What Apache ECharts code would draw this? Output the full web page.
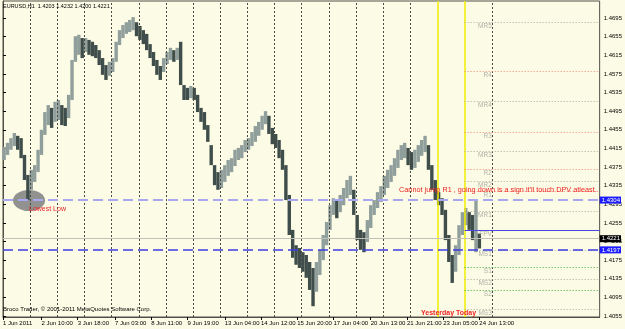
<!DOCTYPE html>
<html>
<head>
<meta charset="utf-8">
<script src="https://cdn.jsdelivr.net/npm/echarts@6/dist/echarts.min.js"></script>
<style>
html, body { margin: 0; padding: 0; background: #fcfce6; }
#chart { width: 625px; height: 329px; }
</style>
</head>
<body>
<div id="chart"></div>
<script>
// EURUSD H1, 1 Jun - 24 Jun 2011, grouped in 3-hour buckets (hour index = trading hours since 1 Jun 00:00)
const priceHigh = [
  1.4418, 1.4427, 1.4437, 1.4448, 1.4442, 1.4437, 1.4401, 1.4358, 1.4369, 1.4379,
  1.4412, 1.4455, 1.4493, 1.4508, 1.4502, 1.4515, 1.4519, 1.4508, 1.4502, 1.4530,
  1.4605, 1.4656, 1.4659, 1.4652, 1.4652, 1.4648, 1.4644, 1.4637, 1.4626, 1.4609,
  1.4594, 1.4601, 1.4609, 1.4644, 1.4669, 1.4680, 1.4686, 1.4691, 1.4697, 1.4686,
  1.4678, 1.4669, 1.4661, 1.4639, 1.4622, 1.4605, 1.4592, 1.4609, 1.4622, 1.4631,
  1.4626, 1.4631, 1.4644, 1.4551, 1.4545, 1.4549, 1.4545, 1.4530, 1.4502, 1.4493,
  1.4465, 1.4422, 1.4379, 1.4364, 1.4369, 1.4379, 1.4390, 1.4394, 1.4412, 1.4416,
  1.4422, 1.4433, 1.4437, 1.4450, 1.4463, 1.4472, 1.4485, 1.4495, 1.4485, 1.4459,
  1.4446, 1.4433, 1.4412, 1.4379, 1.4315, 1.4240, 1.4207, 1.4201, 1.4192, 1.4186,
  1.4171, 1.4158, 1.4171, 1.4197, 1.4229, 1.4257, 1.4293, 1.4308, 1.4304, 1.4315,
  1.4330, 1.4347, 1.4356, 1.4326, 1.4272, 1.4240, 1.4235, 1.4261, 1.4293, 1.4304,
  1.4321, 1.4334, 1.4356, 1.4369, 1.4379, 1.4394, 1.4412, 1.4422, 1.4427, 1.4416,
  1.4407, 1.4412, 1.4422, 1.4433, 1.4442, 1.4422, 1.4379, 1.4347, 1.4321, 1.4308,
  1.4283, 1.4229, 1.4186, 1.4207, 1.4250, 1.4278, 1.4287, 1.4278, 1.4272, 1.4304,
  1.4232
];
const priceLow = [
  1.4390, 1.4401, 1.4412, 1.4420, 1.4412, 1.4394, 1.4347, 1.4304, 1.4326, 1.4343,
  1.4364, 1.4401, 1.4444, 1.4465, 1.4459, 1.4472, 1.4476, 1.4465, 1.4463, 1.4480,
  1.4519, 1.4601, 1.4616, 1.4609, 1.4622, 1.4616, 1.4613, 1.4609, 1.4594, 1.4573,
  1.4562, 1.4571, 1.4579, 1.4601, 1.4637, 1.4652, 1.4661, 1.4665, 1.4669, 1.4656,
  1.4648, 1.4639, 1.4626, 1.4609, 1.4592, 1.4573, 1.4562, 1.4579, 1.4596, 1.4605,
  1.4601, 1.4605, 1.4551, 1.4519, 1.4519, 1.4523, 1.4519, 1.4493, 1.4472, 1.4455,
  1.4429, 1.4379, 1.4336, 1.4326, 1.4330, 1.4343, 1.4356, 1.4364, 1.4377, 1.4390,
  1.4394, 1.4407, 1.4412, 1.4420, 1.4429, 1.4442, 1.4455, 1.4467, 1.4446, 1.4424,
  1.4416, 1.4394, 1.4369, 1.4304, 1.4229, 1.4180, 1.4165, 1.4158, 1.4150, 1.4137,
  1.4111, 1.4076, 1.4107, 1.4143, 1.4175, 1.4207, 1.4240, 1.4272, 1.4265, 1.4278,
  1.4293, 1.4308, 1.4315, 1.4272, 1.4218, 1.4197, 1.4192, 1.4214, 1.4244, 1.4272,
  1.4287, 1.4300, 1.4315, 1.4330, 1.4343, 1.4356, 1.4373, 1.4390, 1.4394, 1.4379,
  1.4369, 1.4373, 1.4386, 1.4399, 1.4407, 1.4369, 1.4326, 1.4304, 1.4293, 1.4272,
  1.4218, 1.4171, 1.4126, 1.4150, 1.4186, 1.4229, 1.4250, 1.4240, 1.4218, 1.4192,
  1.4200
];

const timeLabels = ['1 Jun 2011', '2 Jun 10:00', '3 Jun 18:00', '7 Jun 03:00', '8 Jun 11:00', '9 Jun 19:00',
  '13 Jun 04:00', '14 Jun 12:00', '15 Jun 20:00', '17 Jun 04:00', '20 Jun 13:00', '21 Jun 21:00',
  '23 Jun 05:00', '24 Jun 13:00'];
const timeLabelHours = [0, 34, 66, 99, 131, 163, 196, 228, 260, 292, 325, 357, 389, 421];
const daySeparatorHours = [24, 48, 72, 96, 120, 144, 168, 192, 216, 240, 264, 288, 312, 336, 360, 432];
const markerHours = [384, 408]; // yesterday, today

const priceTicks = [1.4055, 1.4095, 1.4135, 1.4175, 1.4215, 1.4255, 1.4295, 1.4335, 1.4375,
  1.4415, 1.4455, 1.4495, 1.4535, 1.4575, 1.4615, 1.4655, 1.4695];

const pivotNames = ['MR5', 'R4', 'MR4', 'R3', 'MR3', 'R2', 'MR2', 'R1', 'MR1', 'FPV', 'MS1', 'S1', 'MS2', 'S2', 'MS3'];
const pivotValues = [1.4686, 1.4581, 1.4517, 1.4450, 1.4409, 1.4371, 1.4345, 1.4323, 1.4281, 1.4240,
  1.4197, 1.4160, 1.4134, 1.4111, 1.4070];

const levelPrices = [1.4304, 1.4197];
const bidPrice = 1.4221;
const lowestLowPoint = [23, 1.4303];
const ohlcText = 'EURUSD,H1  1.4203 1.4232 1.4200 1.4221';

const FONT = 'Liberation Sans';
const X_MAX = 527.3;
const Y_MIN = 1.40528, Y_MAX = 1.47316;

let chart = echarts.init(document.getElementById('chart'));

const bars = priceHigh.map((h, i) => {
    const mid = (h + priceLow[i]) / 2;
    const prevMid = i > 0 ? (priceHigh[i - 1] + priceLow[i - 1]) / 2 : mid;
    return [i * 3 + 1, priceLow[i], h, mid >= prevMid ? 1 : 0];
});

function pivotStyle(name) {
    if (name === 'FPV') return { color: '#4848e0', type: 'solid', width: 1 };
    if (name[0] === 'M') return { color: '#a8a8a0', type: [1, 2], width: 1 };
    if (name[0] === 'R') return { color: '#f08878', type: [1, 2], width: 1 };
    return { color: '#3aa83a', type: [1, 2], width: 1 };
}

function priceLabel(bg, text) {
    return {
        show: true, position: 'end', distance: 0, formatter: text,
        backgroundColor: bg, color: '#fff', padding: [1, 1, 0, 2], fontSize: 6, fontFamily: FONT
    };
}

const noLabel = { show: false };

// vertical separators + yesterday/today markers + bid line, all under the bars
const backLines = daySeparatorHours.map(h => [
    { coord: [h, Y_MIN], lineStyle: { type: [2, 2], color: '#4a4a44', width: 1 }, label: noLabel },
    { coord: [h, Y_MAX] }
]).concat(markerHours.map(h => [
    { coord: [h, Y_MIN], lineStyle: { type: 'solid', color: '#f2ee00', width: 1.5 }, label: noLabel },
    { coord: [h, Y_MAX] }
])).concat([[
    { coord: [0, bidPrice], lineStyle: { type: 'solid', color: '#c0c0b8', width: 1 }, label: priceLabel('#000', bidPrice.toFixed(4)) },
    { coord: [X_MAX, bidPrice] }
]]);

const option = {
    backgroundColor: '#fcfce6',
    animation: false,
    grid: { left: 1, top: 1, width: 602, height: 316, show: true, borderColor: '#505048', borderWidth: 1 },
    xAxis: {
        type: 'value', min: 0, max: X_MAX,
        axisLine: { show: true, lineStyle: { color: '#505048' } },
        axisTick: { show: true, customValues: timeLabelHours, length: 3, lineStyle: { color: '#000' } },
        axisLabel: {
            customValues: timeLabelHours,
            formatter: v => timeLabels[timeLabelHours.indexOf(v)],
            align: 'left', fontSize: 6, fontFamily: FONT, color: '#000', margin: 3
        },
        splitLine: { show: false }
    },
    yAxis: {
        type: 'value', position: 'right', min: Y_MIN, max: Y_MAX,
        axisLine: { show: true, lineStyle: { color: '#505048' } },
        axisTick: { show: true, customValues: priceTicks, length: 3, lineStyle: { color: '#000' } },
        axisLabel: {
            customValues: priceTicks, formatter: v => v.toFixed(4),
            fontSize: 6, fontFamily: FONT, color: '#000', margin: 4
        },
        splitLine: { show: false }
    },
    series: [
        {
            name: 'lowest low',
            type: 'scatter', z: 1, silent: true,
            symbol: 'circle', symbolSize: [32, 21],
            itemStyle: { color: '#76767a' },
            data: [lowestLowPoint],
            markLine: {
                symbol: ['none', 'none'], silent: true, animation: false,
                data: backLines
            }
        },
        {
            name: 'EURUSD',
            type: 'custom', z: 3,
            renderItem: function (params, api) {
                const x = api.value(0);
                const lo = api.coord([x, api.value(1)]);
                const hi = api.coord([x, api.value(2)]);
                return {
                    type: 'rect',
                    shape: { x: lo[0] - 1.7, y: hi[1], width: 3.4, height: Math.max(1, lo[1] - hi[1]) },
                    style: { fill: api.value(3) ? '#909f9b' : '#3f4d4b' }
                };
            },
            encode: { x: 0, y: [1, 2] },
            data: bars
        },
        {
            name: 'pivots',
            type: 'scatter', z: 4, silent: true,
            symbolSize: 0,
            data: pivotValues.map((v, i) => [432, v, pivotNames[i]]),
            label: {
                show: true, position: 'left', distance: 0, offset: [0, 4],
                formatter: p => p.data[2],
                fontSize: 6.5, fontFamily: FONT, color: '#9c9c98'
            },
            markLine: {
                symbol: ['none', 'none'], silent: true, animation: false,
                data: pivotValues.map((v, i) => [
                    { coord: [markerHours[1], v], lineStyle: pivotStyle(pivotNames[i]), label: noLabel },
                    { coord: [X_MAX, v] }
                ]).concat(levelPrices.map((p, i) => [
                    { coord: [0, p], lineStyle: { type: [10, 5], color: i === 0 ? '#a8a8f0' : '#3c3ce4', width: i === 0 ? 2 : 1.5 },
                      label: priceLabel('#1c1cff', p.toFixed(4)) },
                    { coord: [X_MAX, p] }
                ]))
            }
        }
    ],
    graphic: [
        { type: 'text', left: 3, top: 3, z: 10, style: { text: ohlcText, fontSize: 5.5, fontFamily: FONT, fill: '#000' } },
        { type: 'text', left: 3, top: 306, z: 10, style: { text: 'Broco Trader, \u00a9 2001-2011 MetaQuotes Software Corp.', fontSize: 6, fontFamily: FONT, fill: '#000' } },
        { type: 'text', left: 399, top: 186, z: 10, style: { text: "Cannot jump R1 , going down is a sign it'll touch DPV atleast.", fontSize: 7.3, fontFamily: FONT, fill: '#ee2222' } },
        { type: 'text', left: 29, top: 206, z: 10, style: { text: 'Lowest Low', fontSize: 7, fontFamily: FONT, fill: '#ee2222' } },
        { type: 'text', left: 421, top: 310, z: 10, style: { text: 'Yesterday Today', fontSize: 7, fontWeight: 'bold', fontFamily: FONT, fill: '#ee2222' } }
    ]
};

chart.setOption(option);
</script>
</body>
</html>
